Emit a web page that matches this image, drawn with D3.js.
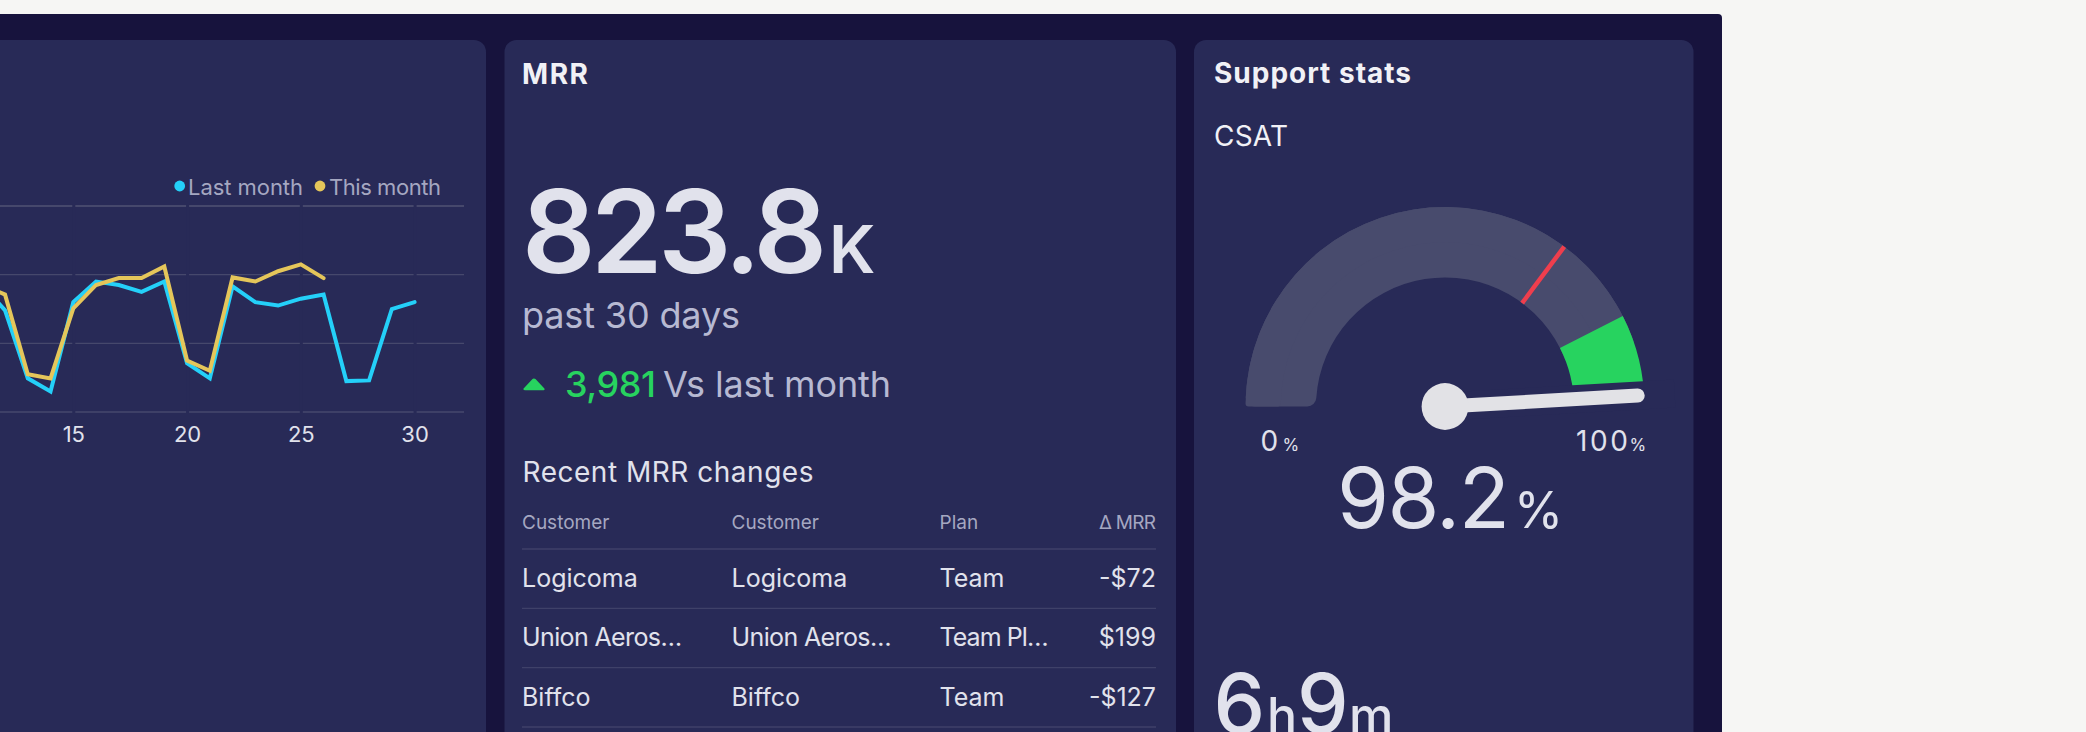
<!DOCTYPE html>
<html>
<head>
<meta charset="utf-8">
<script src="https://cdn.jsdelivr.net/npm/d3@7"></script>
<style>
  html, body { margin: 0; padding: 0; background: #f6f6f4; overflow: hidden; }
  svg { display: block; font-family: Inter, sans-serif; }
</style>
</head>
<body>
<svg id="board" width="2086" height="732"></svg>
<script>
// chart data
const days = [11, 12, 13, 14, 15, 16, 17, 18, 19, 20, 21, 22, 23, 24, 25, 26, 27, 28, 29, 30];
const lastMonth = [185, 148, 49, 30, 160, 190, 185, 175, 190, 71, 49, 183, 160, 155, 165, 171, 45, 46, 150, 160];
const thisMonth = [185, 171, 55, 49, 151, 185, 195, 195, 212, 75, 60, 196, 190, 205, 215, 195];
const dayTicks = [15, 20, 25, 30];
const valueTicks = [0, 100, 200, 300];

const legendNames = ["Last month", "This month"];

const tableHeader = ["Customer", "Customer", "Plan", "Δ MRR"];
const tableCustomers = ["Logicoma", "Union Aeros…", "Biffco"];
const tablePlans = ["Team", "Team Pl…", "Team"];
const tableDeltas = ["-$72", "$199", "-$127"];

const csat = 98.2;
const csatGreenFrom = 85;
const csatRedMark = 70.4;

const colors = {
  page: "#f6f6f4", panel: "#17133d", card: "#282a57", grid: "#46486c", rule: "#3f4169",
  cyan: "#24d0f9", yellow: "#e5c65a", green: "#27d35f", red: "#ef3e4d",
  track: "#484b6d", needle: "#e2e2e6", text: "#e1e2ec", title: "#f1f1f6", sub: "#b7b9d2", faint: "#a5a7c1"
};

const svg = d3.select("#board");

// text helper, fit = width the text should take up in the picture
function label(parent, str, x, y, size, color, weight, fit, anchor) {
  const t = parent.append("text")
    .attr("x", x).attr("y", y)
    .attr("font-size", size)
    .attr("font-weight", weight || 400)
    .attr("fill", color)
    .attr("text-anchor", anchor || "start")
    .text(str);
  if (fit) t.attr("textLength", fit).attr("lengthAdjust", "spacing");
  return t;
}

function card(x0, x1) {
  svg.append("rect")
    .attr("x", x0).attr("y", 40)
    .attr("width", x1 - x0).attr("height", 760)
    .attr("rx", 12)
    .attr("fill", colors.card);
}

// background panel
svg.append("rect")
  .attr("x", -20).attr("y", 14)
  .attr("width", 1742).attr("height", 800)
  .attr("rx", 4)
  .attr("fill", colors.panel);

card(-40, 486);
card(504.5, 1176);
card(1194, 1693.5);

/* line chart */
const x = d3.scaleLinear().domain([15, 30]).range([73.3, 414.6]);
const y = d3.scaleLinear().domain([0, 300]).range([412, 206]);

const chart = svg.append("g");

chart.append("g")
  .selectAll("line")
  .data(valueTicks)
  .join("line")
  .attr("x1", 0).attr("x2", 464)
  .attr("y1", d => y(d)).attr("y2", d => y(d))
  .attr("stroke", colors.grid)
  .attr("stroke-width", d => d == 300 ? 2 : 1.4);

const xAxis = chart.append("g")
  .attr("transform", `translate(0,${y(0)})`)
  .call(d3.axisBottom(x).tickValues(dayTicks).tickFormat(d3.format("d")).tickSize(0).tickPadding(14));
xAxis.select(".domain").remove();
xAxis.selectAll("text")
  .attr("font-family", "Inter, sans-serif")
  .attr("font-size", 22)
  .attr("fill", colors.text);
// grid lines are broken where a tick falls
xAxis.selectAll(".tick line")
  .attr("y1", 1).attr("y2", y(300) - y(0) - 2)
  .attr("stroke", colors.card)
  .attr("stroke-width", 3);

const line = d3.line().x((d, i) => x(days[i])).y(d => y(d));

[[lastMonth, colors.cyan], [thisMonth, colors.yellow]].forEach(([vals, c]) => {
  chart.append("path")
    .attr("d", line(vals))
    .attr("fill", "none")
    .attr("stroke", c)
    .attr("stroke-width", 4)
    .attr("stroke-linejoin", "miter")
    .attr("stroke-linecap", "round");
});

chart.append("circle").attr("cx", 179.7).attr("cy", 186).attr("r", 5.4).attr("fill", colors.cyan);
label(chart, legendNames[0], 188, 195, 22, colors.faint, 400, 115);
chart.append("circle").attr("cx", 320).attr("cy", 186).attr("r", 5.4).attr("fill", colors.yellow);
label(chart, legendNames[1], 329, 195, 22, colors.faint, 400, 112);

/* MRR card */
const mrr = svg.append("g");
label(mrr, "MRR", 522, 84, 28, colors.title, 700, 66);
label(mrr, "823.8", 522, 273, 115, colors.text, 600, 305);
label(mrr, "K", 829, 273, 66, colors.text, 600, 40);
label(mrr, "past 30 days", 522, 328, 36, colors.sub, 400, 218);

mrr.append("path")
  .attr("d", d3.symbol(d3.symbolTriangle, 130)())
  .attr("transform", "translate(534,386) scale(1,0.62)")
  .attr("fill", colors.green)
  .attr("stroke", colors.green)
  .attr("stroke-width", 4)
  .attr("stroke-linejoin", "round");
label(mrr, "3,981", 565, 397, 36, colors.green, 500, 91);
label(mrr, "Vs last month", 663, 397, 36, colors.sub, 400, 228);

label(mrr, "Recent MRR changes", 522.5, 482, 28, colors.text, 400, 291);

const columnX = d3.scaleOrdinal().domain(tableHeader.keys()).range([522, 731.5, 939.5, 1156]);
const headerFit = [null, null, null, 57];
tableHeader.forEach((h, i) => {
  label(mrr, h, columnX(i), 529, 19, colors.faint, 400, headerFit[i], i == 3 ? "end" : "start");
});

const ruleY = d3.scaleLinear().domain([0, 3]).range([549, 727]);
mrr.append("g")
  .selectAll("line")
  .data(d3.range(4))
  .join("line")
  .attr("x1", 522).attr("x2", 1156)
  .attr("y1", d => ruleY(d)).attr("y2", d => ruleY(d))
  .attr("stroke", colors.rule)
  .attr("stroke-width", 1.4);

// the truncated cells end in a narrower ellipsis than the font's
const cellFit = (s, w) => s.endsWith("…") ? w : null;

tableCustomers.forEach((c, i) => {
  const base = ruleY(i) + 38;
  label(mrr, c, columnX(0), base, 25, colors.text, 400, cellFit(c, 160));
  label(mrr, c, columnX(1), base, 25, colors.text, 400, cellFit(c, 160));
  label(mrr, tablePlans[i], columnX(2), base, 25, colors.text, 400, cellFit(tablePlans[i], 109));
  label(mrr, tableDeltas[i], columnX(3), base, 25, colors.text, 400, null, "end");
});

/* support card with gauge */
const support = svg.append("g");
label(support, "Support stats", 1214, 83, 28, colors.title, 700, 197);
label(support, "CSAT", 1214, 145.7, 28, colors.title, 400, 74);

const gauge = support.append("g").attr("transform", "translate(1445,406.5)");
const angle = d3.scaleLinear().domain([0, 100]).range([-Math.PI / 2, Math.PI / 2]);
const innerR = 129, outerR = 199.5;

// track: inner corner rounds more than the outer one, so a second band is laid over it
gauge.append("path")
  .attr("d", d3.arc().innerRadius(innerR).outerRadius(outerR).cornerRadius(9)
    .startAngle(angle(0)).endAngle(angle(csatGreenFrom + 5))())
  .attr("fill", colors.track);
gauge.append("path")
  .attr("d", d3.arc().innerRadius((innerR + outerR) / 2).outerRadius(outerR).cornerRadius(3)
    .startAngle(angle(0)).endAngle(angle(csatGreenFrom + 5))())
  .attr("fill", colors.track);

gauge.append("path")
  .attr("d", d3.arc().innerRadius(innerR).outerRadius(outerR)
    .startAngle(angle(csatGreenFrom)).endAngle(angle(100))())
  .attr("fill", colors.green);

const polar = (v, r) => [Math.sin(angle(v)) * r, -Math.cos(angle(v)) * r];

const [rx0, ry0] = polar(csatRedMark, innerR);
const [rx1, ry1] = polar(csatRedMark, outerR);
gauge.append("line")
  .attr("x1", rx0).attr("y1", ry0).attr("x2", rx1).attr("y2", ry1)
  .attr("stroke", colors.red)
  .attr("stroke-width", 4.5);

const [nx, ny] = polar(csat, 193);
const [ox, oy] = polar(csat, 230);
// halo in card colour cuts the end of the arc
gauge.append("line")
  .attr("x1", 0).attr("y1", 0).attr("x2", ox).attr("y2", oy)
  .attr("stroke", colors.card)
  .attr("stroke-width", 28);
gauge.append("line")
  .attr("x1", 0).attr("y1", 0).attr("x2", nx).attr("y2", ny)
  .attr("stroke", colors.needle)
  .attr("stroke-width", 14)
  .attr("stroke-linecap", "round");
gauge.append("circle").attr("r", 23.4).attr("fill", colors.needle);

label(support, "0", 1260.5, 450.7, 28, colors.text, 400, 20);
label(support, "%", 1282.5, 450.7, 17, colors.text, 400, 15);
label(support, "100", 1576, 450.7, 28, colors.text, 400, 52);
label(support, "%", 1629.5, 450.7, 17, colors.text, 400, 16);

label(support, csat.toFixed(1), 1337, 528, 84, colors.text, 400, 173);
label(support, "%", 1514, 528, 50, colors.text, 400, 43);

label(support, "6", 1213.5, 733, 82, colors.text, 500, 51);
label(support, "h", 1267, 733, 50, colors.text, 500, 30);
label(support, "9", 1297, 733, 82, colors.text, 500, 51);
label(support, "m", 1349, 733, 50, colors.text, 500, 42);
</script>
</body>
</html>
